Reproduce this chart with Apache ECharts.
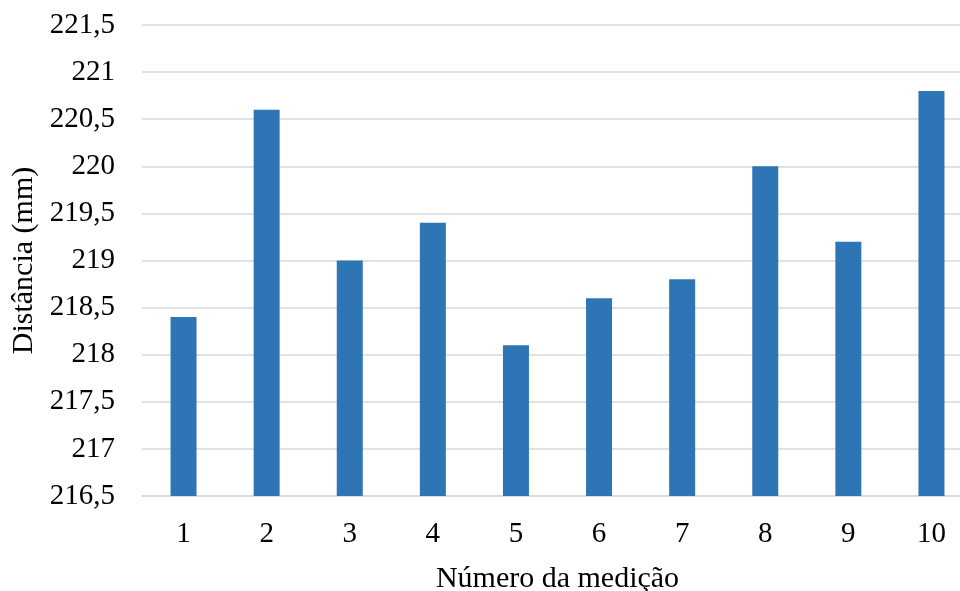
<!DOCTYPE html>
<html>
<head>
<meta charset="utf-8">
<script src="https://cdn.jsdelivr.net/npm/echarts@6/dist/echarts.min.js"></script>
<style>
  html, body { margin: 0; padding: 0; background: #fff; }
  #chart { width: 960px; height: 591px; }
</style>
</head>
<body>
<div id="chart"></div>
<script>
// Medições de distância (mm)
const categories = ['1', '2', '3', '4', '5', '6', '7', '8', '9', '10'];
const distances = [218.4, 220.6, 219.0, 219.4, 218.1, 218.6, 218.8, 220.0, 219.2, 220.8];
const yMin = 216.5;
const yMax = 221.5;
const yStep = 0.5;

const font = '"Liberation Serif", "Times New Roman", serif';
const chart = echarts.init(document.getElementById('chart'), null, { renderer: 'canvas' });

chart.setOption({
  animation: false,
  backgroundColor: '#ffffff',
  grid: { left: 142, right: -13, top: 25, bottom: 95, containLabel: false, outerBoundsMode: 'none' },
  xAxis: {
    type: 'category',
    data: categories,
    name: 'Número da medição',
    nameLocation: 'middle',
    nameGap: 68,
    nameTextStyle: { fontFamily: font, fontSize: 30, color: '#000' },
    axisLine: { show: true, lineStyle: { color: '#d9d9d9', width: 1.5 } },
    axisTick: { show: false },
    axisLabel: { fontFamily: font, fontSize: 29, color: '#000', margin: 24 }
  },
  yAxis: {
    type: 'value',
    min: yMin,
    max: yMax,
    interval: yStep,
    name: 'Distância (mm)',
    nameLocation: 'middle',
    nameGap: 103,
    nameRotate: 90,
    nameTextStyle: { fontFamily: font, fontSize: 30, color: '#000' },
    axisLine: { show: false },
    axisTick: { show: false },
    splitLine: { lineStyle: { color: '#d9d9d9', width: 1.5 } },
    axisLabel: {
      fontFamily: font, fontSize: 29, color: '#000', margin: 27,
      formatter: v => String(Math.round(v * 10) / 10).replace('.', ',')
    }
  },
  series: [{
    type: 'bar',
    data: distances,
    barWidth: 26,
    itemStyle: { color: '#2e75b6' }
  }]
});
</script>
</body>
</html>
